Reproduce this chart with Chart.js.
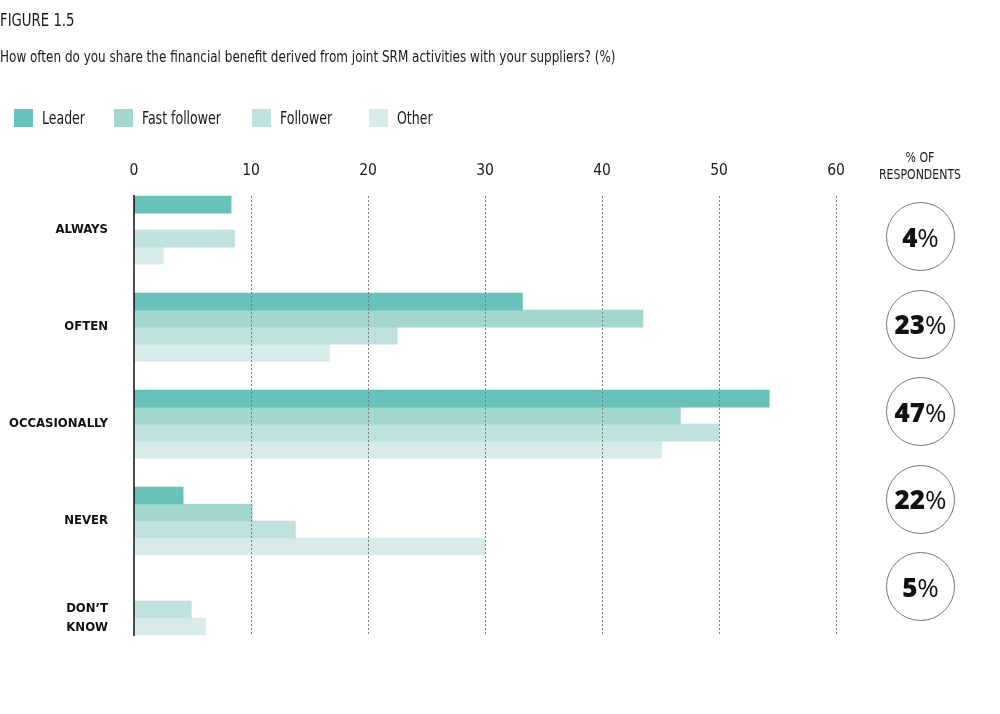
<!DOCTYPE html>
<html>
<head>
<meta charset="utf-8">
<script src="https://cdn.jsdelivr.net/npm/chart.js@4"></script>
<style>
  html, body { margin: 0; padding: 0; background: #fff; }
  body { width: 1000px; height: 714px; position: relative; overflow: hidden;
         font-family: 'Liberation Sans Narrow', 'DejaVu Sans Condensed', 'Arial Narrow', sans-serif; color: #1a1a1a; }
  #chart { position: absolute; left: 0; top: 0; }
  .title { position: absolute; left: 0; top: 9px; font-size: 18px; line-height: 22px;
           transform: scaleX(0.82); transform-origin: left center; white-space: nowrap; }
  .subtitle { position: absolute; left: 0; top: 47px; font-size: 15px; line-height: 20px;
              transform: scaleX(0.89); transform-origin: left center; white-space: nowrap; }
  .legend { position: absolute; left: 14px; top: 107px; display: flex; font-size: 17px; line-height: 22px; }
  .legend .item { display: flex; align-items: center; white-space: nowrap; }
  .legend .item:nth-child(1) { width: 100px; }
  .legend .item:nth-child(2) { width: 138px; }
  .legend .item:nth-child(3) { width: 117px; }
  .legend .box { width: 19px; height: 18px; margin-right: 9px; flex: none; }
  .legend .txt { display: inline-block; transform: scaleX(0.82); transform-origin: left center; }
  .resp-head { position: absolute; left: 860px; width: 120px; top: 149px; text-align: center;
               font-size: 14.5px; line-height: 17px; transform: scaleX(0.84); transform-origin: center; }
  .circles { position: absolute; left: 886px; top: 202px; display: flex; flex-direction: column; gap: 18.5px; }
  .circle { width: 67px; height: 67px; border: 1.3px solid #777; border-radius: 50%;
            display: flex; align-items: center; justify-content: center;
            font-family: 'Open Sans', 'Noto Sans', sans-serif; font-size: 26px; color: #111; }
  .circle b { font-weight: 800; }
  .circle span { font-weight: 400; }
</style>
</head>
<body>
<canvas id="chart" width="1000" height="714"></canvas>
<div class="title">FIGURE 1.5</div>
<div class="subtitle">How often do you share the financial benefit derived from joint SRM activities with your suppliers? (%)</div>
<div class="legend" id="legend"></div>
<div class="resp-head">% OF<br>RESPONDENTS</div>
<div class="circles" id="circles"></div>
<script>
// ---- data ----
const categories = ['ALWAYS', 'OFTEN', 'OCCASIONALLY', 'NEVER', ['DON\u2019T', 'KNOW']];
const seriesNames = ['Leader', 'Fast follower', 'Follower', 'Other'];
const leader       = [8.3, 33.2, 54.3, 4.2, null];
const fastFollower = [0, 43.5, 46.7, 10.1, null];
const follower     = [8.6, 22.5, 50.0, 13.8, 4.9];
const other        = [2.5, 16.7, 45.1, 30.0, 6.1];
const seriesColors = ['#68c2b9', '#a4d6d0', '#c0e2de', '#d7ecea'];
const xTicks = [0, 10, 20, 30, 40, 50, 60];
const respondentShare = [4, 23, 47, 22, 5];

const CF = "'Liberation Sans Narrow', 'DejaVu Sans Condensed', 'Arial Narrow', sans-serif";

// legend (HTML)
const legendEl = document.getElementById('legend');
seriesNames.forEach((n, i) => {
  const it = document.createElement('div'); it.className = 'item';
  const b = document.createElement('div'); b.className = 'box'; b.style.background = seriesColors[i];
  const t = document.createElement('span'); t.className = 'txt'; t.textContent = n;
  it.appendChild(b); it.appendChild(t); legendEl.appendChild(it);
});

// respondents circles
const circEl = document.getElementById('circles');
respondentShare.forEach(v => {
  const c = document.createElement('div'); c.className = 'circle';
  c.innerHTML = '<b>' + v + '</b><span>%</span>';
  circEl.appendChild(c);
});

// gridlines & axis line drawn over bars, spanning the bars' extent
const overGrid = {
  id: 'overGrid',
  afterDatasetsDraw(chart) {
    const { ctx, scales: { x } } = chart;
    let top = Infinity, bottom = -Infinity;
    chart.data.datasets.forEach((ds, i) => {
      const meta = chart.getDatasetMeta(i);
      meta.data.forEach((bar, j) => {
        if (ds.data[j] === null || ds.data[j] === undefined) return;
        const p = bar.getProps(['y', 'height'], true);
        top = Math.min(top, p.y - p.height / 2);
        bottom = Math.max(bottom, p.y + p.height / 2);
      });
    });
    ctx.save();
    ctx.strokeStyle = '#7a7a7a';
    ctx.lineWidth = 1;
    ctx.setLineDash([2, 2]);
    x.ticks.forEach(t => {
      if (t.value === 0) return;
      const px = Math.round(x.getPixelForValue(t.value)) + 0.5;
      ctx.beginPath(); ctx.moveTo(px, top); ctx.lineTo(px, bottom); ctx.stroke();
    });
    ctx.setLineDash([]);
    ctx.strokeStyle = '#111';
    ctx.lineWidth = 1.5;
    const x0 = x.getPixelForValue(0);
    ctx.beginPath(); ctx.moveTo(x0, top - 1); ctx.lineTo(x0, bottom + 1); ctx.stroke();
    ctx.restore();
  }
};

const seriesData = [leader, fastFollower, follower, other];
new Chart(document.getElementById('chart'), {
  type: 'bar',
  data: {
    labels: categories,
    datasets: seriesNames.map((n, i) => ({
      label: n,
      data: seriesData[i],
      backgroundColor: seriesColors[i],
      borderWidth: 0,
      barThickness: 17,
      skipNull: true
    }))
  },
  options: {
    indexAxis: 'y',
    responsive: false,
    animation: false,
    layout: { padding: { left: 0, right: 164, top: 161, bottom: 47.5 } },
    plugins: { legend: { display: false }, tooltip: { enabled: false } },
    scales: {
      x: {
        position: 'top',
        min: 0, max: 60,
        afterBuildTicks: s => { s.ticks = xTicks.map(v => ({ value: v })); },
        grid: { display: false, drawTicks: false },
        border: { display: false },
        ticks: { padding: 1, color: '#1a1a1a', font: { family: CF, size: 15.5 } }
      },
      y: {
        grid: { display: false, drawTicks: false },
        border: { display: false },
        afterFit: s => { s.width = 134; },
        ticks: { padding: 26, color: '#111', font: { family: CF, size: 13, weight: 'bold', lineHeight: 1.45 } }
      }
    }
  },
  plugins: [overGrid]
});
</script>
</body>
</html>
